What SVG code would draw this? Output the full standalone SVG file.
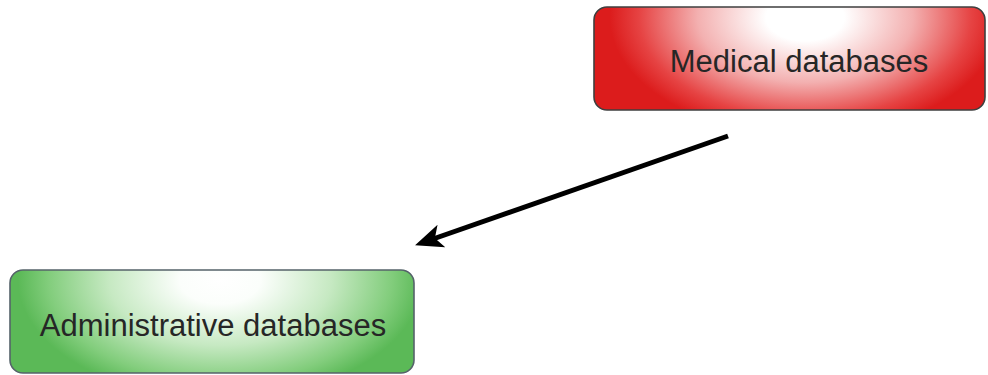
<svg xmlns="http://www.w3.org/2000/svg" width="988" height="375" viewBox="0 0 988 375">
  <defs>
    <radialGradient id="redFill" cx="0.54" cy="0.1" r="1" gradientTransform="translate(0.54,0.1) scale(0.5,1.15) translate(-0.54,-0.1)">
      <stop offset="0" stop-color="#ffffff"/>
      <stop offset="0.2" stop-color="#ffffff"/>
      <stop offset="0.55" stop-color="#f3b0b0"/>
      <stop offset="0.85" stop-color="#e64343"/>
      <stop offset="1" stop-color="#dc1c1c"/>
    </radialGradient>
    <radialGradient id="greenFill" cx="0.52" cy="0.1" r="1" gradientTransform="translate(0.52,0.1) scale(0.5,1.15) translate(-0.52,-0.1)">
      <stop offset="0" stop-color="#ffffff"/>
      <stop offset="0.2" stop-color="#fbfefb"/>
      <stop offset="0.55" stop-color="#c6e9c2"/>
      <stop offset="0.85" stop-color="#82cd7c"/>
      <stop offset="1" stop-color="#5bb957"/>
    </radialGradient>
    <marker id="arrowHead" markerUnits="userSpaceOnUse" markerWidth="30" markerHeight="26" refX="9" refY="13" orient="auto">
      <path d="M28,13 L0,1 L7,13 L0,25 Z" fill="#000"/>
    </marker>
  </defs>
  <style>
    .box { stroke-width: 1.6; }
    .label { font-family: "Liberation Sans", Arial, sans-serif; font-size: 31px; fill: #262626; text-anchor: middle; }
  </style>

  <g id="medical">
    <rect class="box" x="594" y="7" width="391" height="103" rx="13" fill="url(#redFill)" stroke="#3f3f3f"/>
    <text class="label" x="799" y="72">Medical databases</text>
  </g>

  <g id="administrative">
    <rect class="box" x="10" y="270" width="404" height="103" rx="13" fill="url(#greenFill)" stroke="#55636a"/>
    <text class="label" x="213" y="336">Administrative databases</text>
  </g>

  <g id="connectors">
    <line x1="728" y1="136" x2="433" y2="239" stroke="#000" stroke-width="5" marker-end="url(#arrowHead)"/>
  </g>
</svg>
